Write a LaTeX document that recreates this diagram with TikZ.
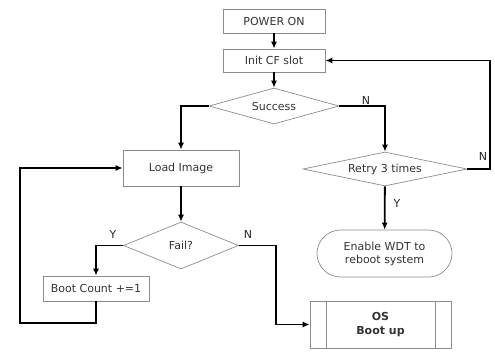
\documentclass[tikz,border=0pt]{standalone}
\usepackage{fontspec}
\setmainfont{DejaVu Sans}
\usetikzlibrary{shapes.geometric,shapes.misc,arrows.meta}
\begin{document}
\begin{tikzpicture}[
x=1pt, y=-1pt,
font=\fontsize{11}{13}\selectfont,
procnode/.style={draw=black!45, line width=0.7pt, text=black!80, inner sep=0pt},
decisionnode/.style={diamond, draw=black!45, line width=0.7pt, text=black!80, inner sep=0pt},
termnode/.style={rounded rectangle, draw=black!45, line width=0.7pt, text=black!80, align=center, inner sep=0pt},
flowline/.style={line width=1.8pt, -{Latex[length=7pt,width=6pt]}},
labelnode/.style={text=black!85, inner sep=0pt},
]
    \useasboundingbox (0,0) rectangle (495,351);
    \node[procnode, minimum width=102pt, minimum height=24pt](power) at (274,21) {POWER ON};
    \node[procnode, minimum width=102pt, minimum height=23pt](init) at (274,60.5) {Init CF slot};
    \node[decisionnode, aspect=3.6, minimum width=130pt, minimum height=36pt](success) at (274,106) {Success};
    \node[procnode, minimum width=116pt, minimum height=36pt](load) at (181,168) {Load Image};
    \node[decisionnode, aspect=4.8, minimum width=164pt, minimum height=34pt](retry) at (385,169) {Retry 3 times};
    \node[decisionnode, aspect=2.45, minimum width=115pt, minimum height=47pt](fail) at (181,245.5) {Fail?};
    \node[procnode, minimum width=106pt, minimum height=25pt](count) at (96,288.5) {Boot Count +=1};
    \node[termnode, minimum width=135pt, minimum height=47pt](wdt) at (384.5,253.5) {Enable WDT to\\reboot system};
    \node[procnode, minimum width=141pt, minimum height=47pt, align=center, font=\fontsize{11}{14}\selectfont\bfseries](os) at (380.5,324.5) {OS\\Boot up};
    \draw[draw=black!45, line width=0.7pt] ([xshift=17pt]os.north west) -- ([xshift=17pt]os.south west)
        ([xshift=-16pt]os.north east) -- ([xshift=-16pt]os.south east);
    \coordinate (loopbase) at (20,323);

    \draw[flowline] (power) -- (init);
    \draw[flowline] (init) -- (success);
    \draw[flowline] (success.west) -| (load.north);
    \draw[flowline] (success.east) -| (retry.north);
    \draw[flowline] (retry.east) -- ++(23,0) |- (init.east);
    \draw[flowline] (retry) -- (wdt);
    \draw[flowline] (load) -- (fail);
    \draw[flowline] (fail.west) -| (count.north);
    \draw[flowline] (fail.east) -- ++(37,0) |- (os.west);
    \draw[flowline] (count.south) |- (loopbase) |- (load.west);

    \node[labelnode](nsuccess) at (366,100) {N};
    \node[labelnode](nretry) at (483,156) {N};
    \node[labelnode](yretry) at (397,203) {Y};
    \node[labelnode](yfail) at (113,234) {Y};
    \node[labelnode](nfail) at (248,234) {N};
\end{tikzpicture}
\end{document}
